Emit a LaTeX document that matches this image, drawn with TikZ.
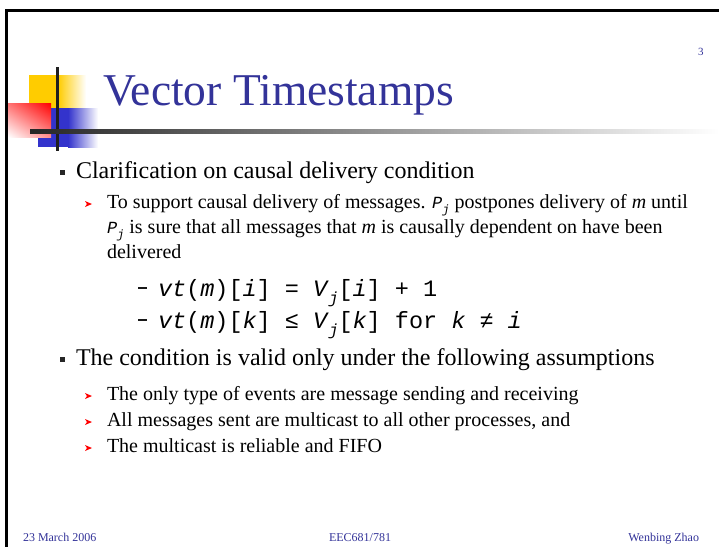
\documentclass[tikz,border=0pt]{standalone}
\usepackage{fontspec}
\usetikzlibrary{shadings}
\setmainfont{Liberation Serif}
\newfontfamily\cour{Liberation Mono}
\definecolor{ttl}{RGB}{51,51,153}
\definecolor{ylw}{RGB}{255,204,0}
\definecolor{blu}{RGB}{51,51,204}
\definecolor{rd}{RGB}{255,0,0}
\newcommand\sbj[1]{\raisebox{-0.3em}{\fontsize{#1}{#1}\selectfont\itshape j}}
\newcommand\fmla{\cour\fontsize{23.5}{26}\selectfont}
\begin{document}
\begin{tikzpicture}[x=1pt,y=-1pt,
  txt/.style={inner sep=0pt,outer sep=0pt,anchor=base west},
  lvlone/.style={txt,font=\fontsize{24}{28}\selectfont},
  lvltwo/.style={txt,font=\fontsize{20}{24}\selectfont},
  foot/.style={inner sep=0pt,outer sep=0pt,text=ttl,font=\fontsize{12}{14}\selectfont},
  sqbul/.pic={\fill[black!85] (-2.5,-2.5) rectangle (2.5,2.5);},
  arrbul/.pic={\fill[rd] (-3.5,-3) -- (3.5,0) -- (-3.5,3) -- (-1.6,0) -- cycle;},
  dashbul/.pic={\fill[black!90] (-4.5,-1.3) rectangle (4.5,1.3);}]
\useasboundingbox (0,0) rectangle (719,547);
\fill[white] (0,0) rectangle (719,547);
% frame
\fill[black] (5,9) rectangle (719,12);
\fill[black] (5,9) rectangle (8,547);
% logo
\fill[ylw] (29,75) rectangle (58,108);
\shade[left color=ylw,right color=white] (58,75) rectangle (86,108);
\fill[blu] (38,108) rectangle (68,147);
\shade[left color=blu,right color=white] (68,108) rectangle (98,147);
\shade[upper right=rd,upper left=rd!55!white,lower right=rd!45!white,lower left=white] (8,103) rectangle (51,137);
\fill[black!88] (56,67) rectangle (59,151);
\shade[left color=black!85,right color=white] (30,129) rectangle (719,133);
% page number and title
\node[txt,text=ttl,font=\fontsize{11}{12}\selectfont] (pnum) at (698,55) {3};
\node[txt,text=ttl,font=\fontsize{45.5}{48}\selectfont] (title) at (103,105) {Vector Timestamps};
% bullet 1
\pic at (62,172) {sqbul};
\node[lvlone] (l1) at (76,178) {Clarification on causal delivery condition};
\pic at (88.5,204) {arrbul};
\node[lvltwo] (s1a) at (107,208) {To support causal delivery of messages. {\cour\fontsize{17}{20}\selectfont\itshape P\sbj{12}} postpones delivery of \textit{m} until};
\node[lvltwo] (s1b) at (107,233) {{\cour\fontsize{17}{20}\selectfont\itshape P\sbj{12}} is sure that all messages that \textit{m} is causally dependent on have been};
\node[lvltwo] (s1c) at (107,258) {delivered};
\pic at (142.5,288) {dashbul};
\node[txt] (f1) at (158,296) {\fmla\textit{vt}(\textit{m})[\textit{i}] = \textit{V}\sbj{16}[\textit{i}] + 1};
\pic at (142.5,320) {dashbul};
\node[txt] (f2) at (158,328) {\fmla\textit{vt}(\textit{m})[\textit{k}] ≤ \textit{V}\sbj{16}[\textit{k}] for \textit{k} ≠ \textit{i}};
% bullet 2
\pic at (62,359) {sqbul};
\node[lvlone] (l2) at (76,365) {The condition is valid only under the following assumptions};
\pic at (88.5,396) {arrbul};
\node[lvltwo] (s2) at (107,400) {The only type of events are message sending and receiving};
\pic at (88.5,422) {arrbul};
\node[lvltwo] (s3) at (107,426) {All messages sent are multicast to all other processes, and};
\pic at (88.5,448) {arrbul};
\node[lvltwo] (s4) at (107,452) {The multicast is reliable and FIFO};
% footer
\node[foot,anchor=base west] (date) at (23,541) {23 March 2006};
\node[foot,anchor=base] (course) at (360,541) {EEC681/781};
\node[foot,anchor=base east] (author) at (699,541) {Wenbing Zhao};
\end{tikzpicture}
\end{document}
